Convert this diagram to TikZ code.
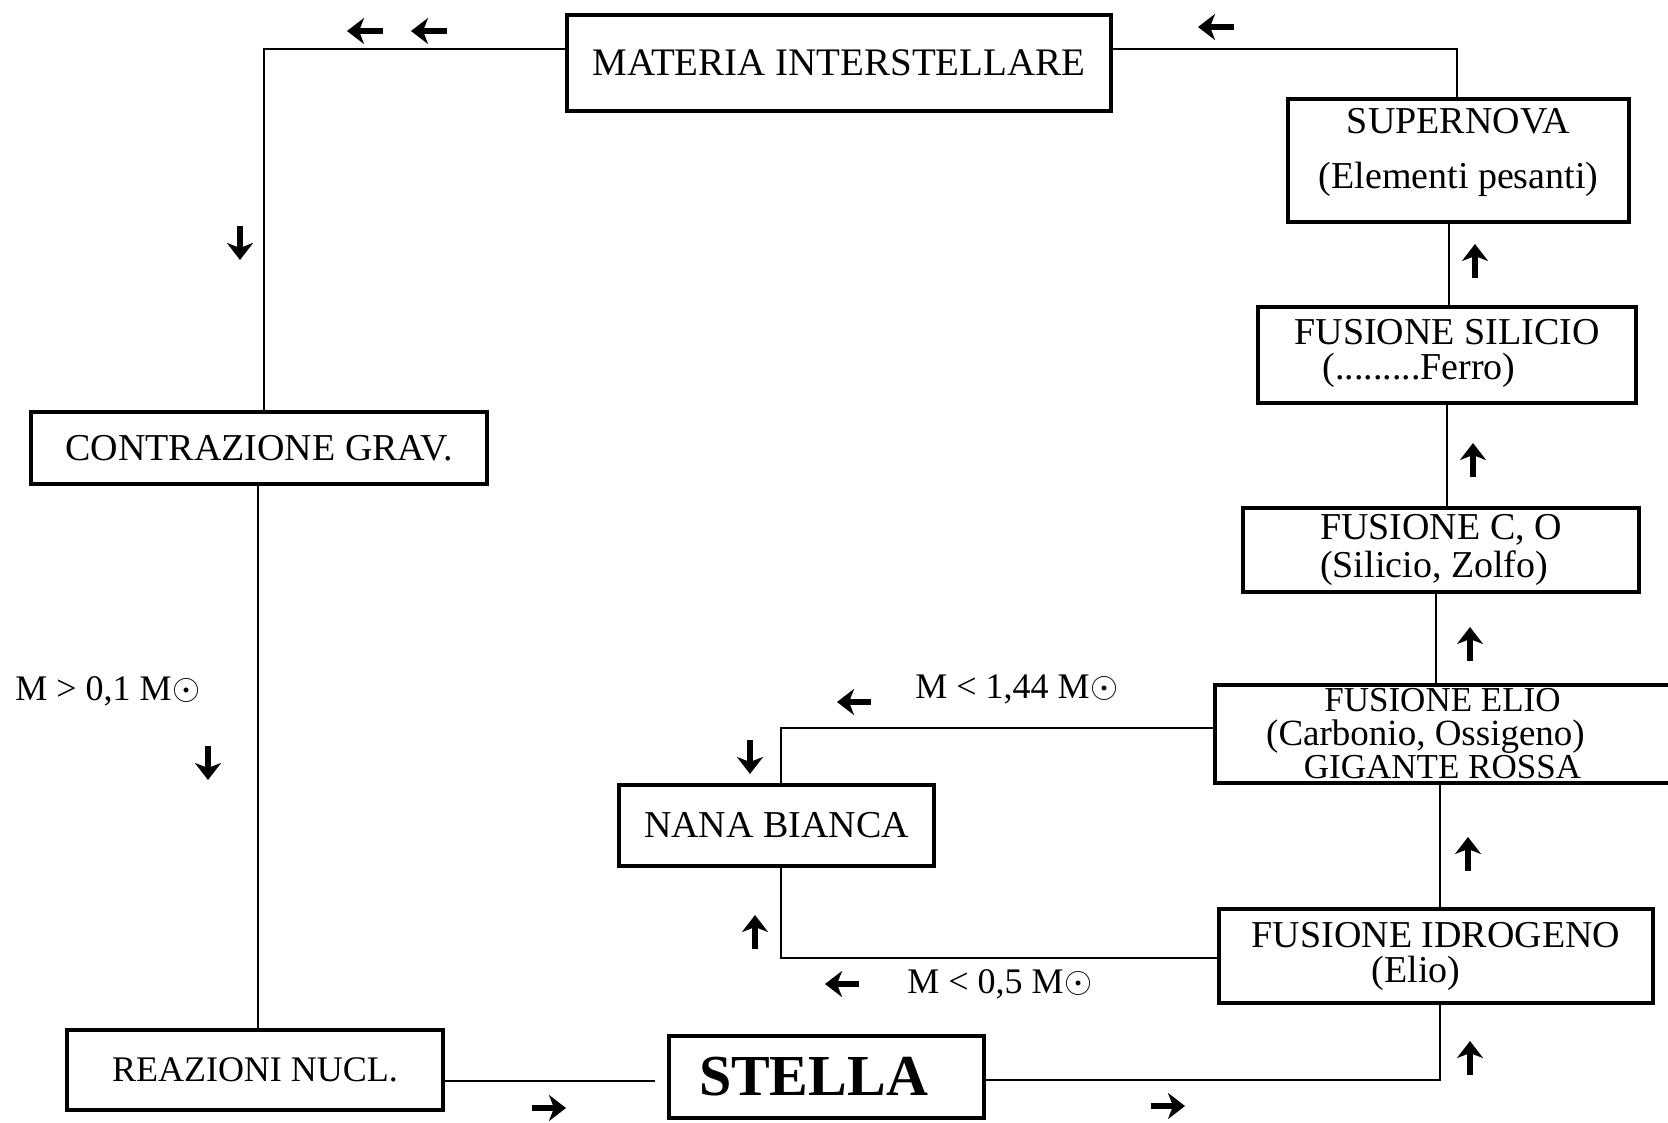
\documentclass[tikz,border=0pt]{standalone}
\usepackage{fontspec}
\setmainfont{Liberation Serif}
\usetikzlibrary{arrows.meta}
\newcommand{\msun}{M\kern1pt\raisebox{1pt}{\scalebox{1.45}{$\odot$}}}
\begin{document}
\begin{tikzpicture}[x=1pt,y=-1pt,
  bx/.style={draw, line width=4.5pt, inner sep=0pt, align=center, font=\fontsize{38}{35}\selectfont},
  ln/.style={line width=2.2pt},
  mk/.style={line width=6pt, -{Stealth[length=17pt,width=26pt,inset=5pt]}},
  lbl/.style={font=\fontsize{36}{38}\selectfont, inner sep=0pt}]
\useasboundingbox (0,0) rectangle (1668,1122);
\begin{scope}
\clip (0,0) rectangle (1668,1122);
% boxes
\node[bx, font=\fontsize{39}{40}\selectfont, minimum width=544pt, minimum height=96pt] (mat) at (839,63) {MATERIA INTERSTELLARE};
\node[bx, minimum width=341pt, minimum height=123pt] (sup) at (1458.5,160.5) {SUPERNOVA\\[20pt](Elementi pesanti)\rule[-24pt]{0pt}{24pt}};
\node[bx, minimum width=378pt, minimum height=96pt] (sil) at (1447,355) {FUSIONE SILICIO\\(.........Ferro)\hspace*{56pt}\mbox{}\rule[-11pt]{0pt}{11pt}};
\node[bx, align=left, font=\fontsize{38}{38}\selectfont, minimum width=396pt, minimum height=84pt] (co) at (1441,550) {FUSIONE C, O\\(Silicio, Zolfo)};
\node[bx, font=\fontsize{35}{33.5}\selectfont, minimum width=455pt, minimum height=98pt] (elio) at (1442.5,734) {FUSIONE ELIO\\{\fontsize{37}{33.5}\selectfont(Carbonio, Ossigeno)}\hspace*{34pt}\mbox{}\\GIGANTE ROSSA};
\node[bx, minimum width=434pt, minimum height=94pt] (hyd) at (1436,956) {FUSIONE IDROGENO\\(Elio)\hspace*{40pt}\mbox{}};
\node[bx, minimum width=315pt, minimum height=81pt] (nb) at (776.5,825.5) {NANA BIANCA};
\node[bx, minimum width=456pt, minimum height=72pt] (cg) at (259,448) {CONTRAZIONE GRAV.};
\node[bx, font=\fontsize{36}{38}\selectfont, minimum width=376pt, minimum height=80pt] (rn) at (255,1070) {REAZIONI NUCL.};
\node[bx, font=\bfseries\fontsize{58}{60}\selectfont, minimum width=315pt, minimum height=82pt] (st) at (826.5,1077) {STELLA\hspace*{26pt}\mbox{}};
% labels
\node[lbl] (l1) at (108,691) {M > 0,1 \msun};
\node[lbl] (l2) at (1017,689) {M < 1,44 \msun};
\node[lbl] (l3) at (1000,984) {M < 0,5 \msun};
% connectors
\coordinate (c1) at (264,49);
\draw[ln] (mat.west |- c1) -- (c1) -- (c1 |- cg.north);
\coordinate (c2) at (258,0);
\draw[ln] (cg.south -| c2) -- (rn.north -| c2);
\coordinate (c3) at (0,1081);
\draw[ln, shorten >=12pt] (rn.east |- c3) -- (st.west |- c3);
\coordinate (c4) at (1440,1080);
\draw[ln] (st.east |- c4) -- (c4) -- (c4 |- hyd.south);
\coordinate (c5) at (781,958);
\draw[ln] (hyd.west |- c5) -- (c5) -- (c5 |- nb.south);
\coordinate (c6) at (781,728);
\draw[ln] (elio.west |- c6) -- (c6) -- (c6 |- nb.north);
\coordinate (c7) at (1440,0);
\draw[ln] (hyd.north -| c7) -- (elio.south -| c7);
\coordinate (c8) at (1436,0);
\draw[ln] (elio.north -| c8) -- (co.south -| c8);
\coordinate (c9) at (1447,0);
\draw[ln] (co.north -| c9) -- (sil.south -| c9);
\coordinate (c10) at (1449,0);
\draw[ln] (sil.north -| c10) -- (sup.south -| c10);
\coordinate (c11) at (1457,49);
\draw[ln] (sup.north -| c11) -- (c11) -- (mat.east |- c11);
% direction marks
\draw[mk] (383,31) -- (347,31);
\draw[mk] (447,31) -- (411,31);
\draw[mk] (1234,27) -- (1198,27);
\draw[mk] (240,226) -- (240,260);
\draw[mk] (208,746) -- (208,780);
\draw[mk] (532,1108) -- (566,1108);
\draw[mk] (1151,1106) -- (1185,1106);
\draw[mk] (1470,1075) -- (1470,1041);
\draw[mk] (1468,871) -- (1468,837);
\draw[mk] (1470,661) -- (1470,627);
\draw[mk] (1473,477) -- (1473,443);
\draw[mk] (1475,278) -- (1475,244);
\draw[mk] (871,702) -- (837,702);
\draw[mk] (750,740) -- (750,774);
\draw[mk] (755,949) -- (755,915);
\draw[mk] (859,984) -- (825,984);
\end{scope}
\end{tikzpicture}
\end{document}
